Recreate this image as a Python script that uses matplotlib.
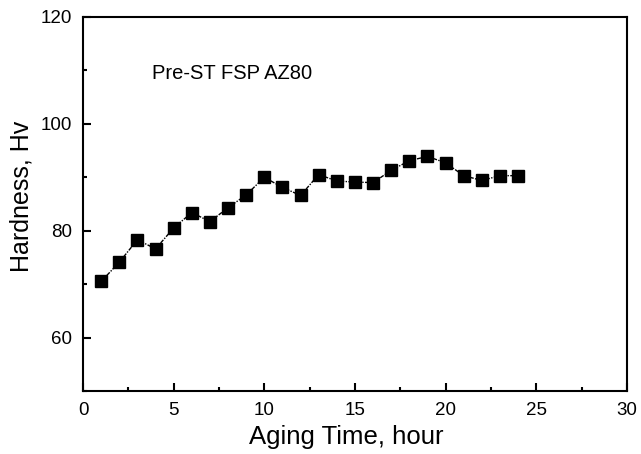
import matplotlib
matplotlib.use("Agg")
import matplotlib.pyplot as plt
from matplotlib.ticker import MultipleLocator

plt.rcParams['font.family'] = ['Liberation Sans', 'DejaVu Sans']

time_h = [1, 2, 3, 4, 5, 6, 7, 8, 9, 10, 11, 12, 13, 14, 15, 16, 17, 18, 19, 20, 21, 22, 23, 24]
hardness = [70.5, 74.1, 78.3, 76.6, 80.5, 83.4, 81.7, 84.3, 86.7, 90.0, 88.1, 86.6, 90.5, 89.3,
            89.1, 89.0, 91.3, 93.1, 93.9, 92.7, 90.3, 89.4, 90.3, 90.3]

fig = plt.figure(figsize=(6.41, 4.54), dpi=100)
ax = fig.add_axes([0.1295, 0.1388, 0.8485, 0.8238])
ax.plot(time_h, hardness, color='black', linestyle=(0, (3, 1, 1, 1)), linewidth=1.0,
        marker='s', markersize=8.5, markerfacecolor='black', markeredgecolor='black')

ax.set_xlim(0, 30)
ax.set_ylim(50, 120)
ax.xaxis.set_major_locator(MultipleLocator(5))
ax.xaxis.set_minor_locator(MultipleLocator(2.5))
ax.set_yticks([60, 80, 100, 120])
ax.yaxis.set_minor_locator(MultipleLocator(10))
ax.tick_params(which='both', direction='in', top=False, right=False, labelsize=13.5, width=1.5)
ax.tick_params(which='major', length=6)
ax.tick_params(which='minor', length=3)
ax.tick_params(axis='x', pad=8)
ax.tick_params(axis='y', pad=8)
for s in ax.spines.values():
    s.set_linewidth(1.5)

ax.set_xlabel('Aging Time, hour', fontsize=18.5, labelpad=4)
ax.set_ylabel('Hardness, Hv', fontsize=18, labelpad=5)
ax.xaxis.label.set_x(0.484)
ax.yaxis.label.set_y(0.52)
ax.text(3.8, 109.4, 'Pre-ST FSP AZ80', fontsize=14.5, va='center')

fig.savefig('out.png', dpi=100)
